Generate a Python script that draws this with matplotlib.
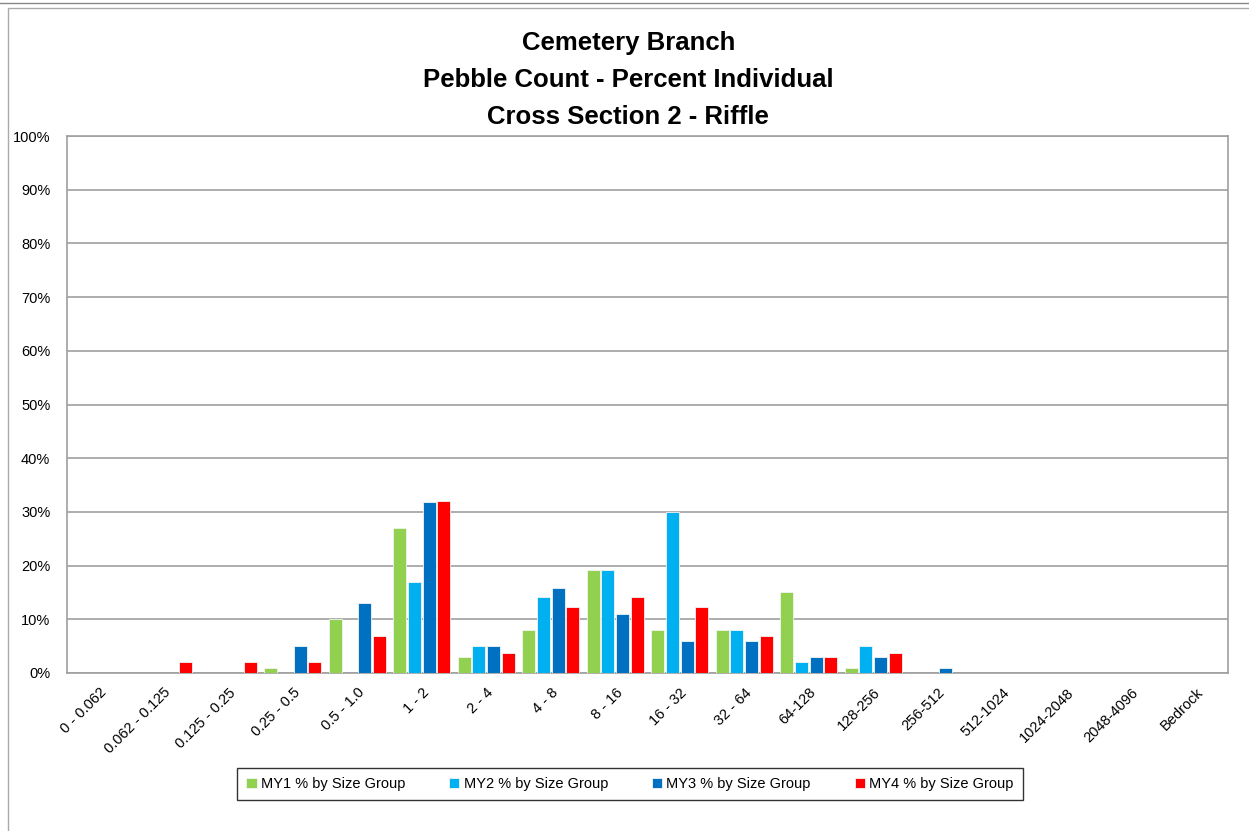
import numpy as np
import matplotlib
matplotlib.use('Agg')
import matplotlib.pyplot as plt
from matplotlib.patches import Rectangle
from matplotlib.lines import Line2D
from matplotlib.ticker import PercentFormatter

plt.rcParams['font.family'] = ['Liberation Sans Narrow', 'Liberation Sans', 'DejaVu Sans']

sizes = ['0 - 0.062', '0.062 - 0.125', '0.125 - 0.25', '0.25 - 0.5', '0.5 - 1.0',
         '1 - 2', '2 - 4', '4 - 8', '8 - 16', '16 - 32', '32 - 64', '64-128',
         '128-256', '256-512', '512-1024', '1024-2048', '2048-4096', 'Bedrock']
my1 = [0, 0, 0, 1, 10, 27, 3, 8, 19.2, 8, 8, 15, 1, 0, 0, 0, 0, 0]
my2 = [0, 0, 0, 0, 0, 17, 5, 14.1, 19.2, 30, 8, 2, 5, 0, 0, 0, 0, 0]
my3 = [0, 0, 0, 5, 13, 31.8, 5, 15.8, 11, 6, 6, 3, 3, 1, 0, 0, 0, 0]
my4 = [0, 2, 2, 2, 6.8, 32, 3.8, 12.2, 14.1, 12.2, 6.8, 3, 3.8, 0, 0, 0, 0, 0]
series = [('MY1 % by Size Group', my1, '#92D050'),
          ('MY2 % by Size Group', my2, '#00B0F0'),
          ('MY3 % by Size Group', my3, '#0070C0'),
          ('MY4 % by Size Group', my4, '#FF0000')]

fig = plt.figure(figsize=(12.49, 8.31), dpi=100)
# outer chart frame
fig.add_artist(Line2D([0, 1], [1 - 3/831, 1 - 3/831], color='#888', lw=1))
fig.add_artist(Rectangle((8/1249, -0.05), 1.1, 1 - 8/831 + 0.05, fill=False,
                         edgecolor='#aaa', lw=1, transform=fig.transFigure))

ax = fig.add_axes([67/1249, (831-673)/831, (1228-67)/1249, (673-136)/831])
x = np.arange(len(sizes))
step = 0.228
for i, (lbl, vals, col) in enumerate(series):
    ax.bar(x + (i - 1.5) * step, vals, 0.2, color=col, edgecolor='#f4f4f4', lw=0.6,
           label=lbl, zorder=3)

ax.set_xlim(-0.5, len(sizes) - 0.5)
ax.set_ylim(0, 100)
ax.set_yticks(range(0, 101, 10))
ax.yaxis.set_major_formatter(PercentFormatter(decimals=0))
ax.grid(axis='y', color='#a0a0a0', lw=1.2, zorder=0)
for s in ax.spines.values():
    s.set_color('#a0a0a0'); s.set_linewidth(1.2)
ax.tick_params(axis='y', length=0, labelsize=10.5, pad=12)
ax.tick_params(axis='x', length=0, labelsize=10.5, pad=9)
ax.set_xticks(x)
ax.set_xticklabels(sizes, rotation=45, ha='right', rotation_mode='anchor')

for yy, t in [(41, 'Cemetery Branch'), (78, 'Pebble Count - Percent Individual'),
              (115, 'Cross Section 2 - Riffle')]:
    fig.text(0.503, 1 - (yy + 2)/831, t, ha='center', va='center', fontsize=18.5,
             fontweight='bold')

leg = fig.legend(loc='center', bbox_to_anchor=(630/1249, 1 - 784/831), ncol=4, fontsize=10.5,
                 frameon=True, fancybox=False, edgecolor='black', handlelength=0.7, handleheight=0.7,
                 columnspacing=3.0, handletextpad=0.3, borderpad=0.65, borderaxespad=0)
leg.get_frame().set_linewidth(1)

fig.savefig('out.png', dpi=100)
